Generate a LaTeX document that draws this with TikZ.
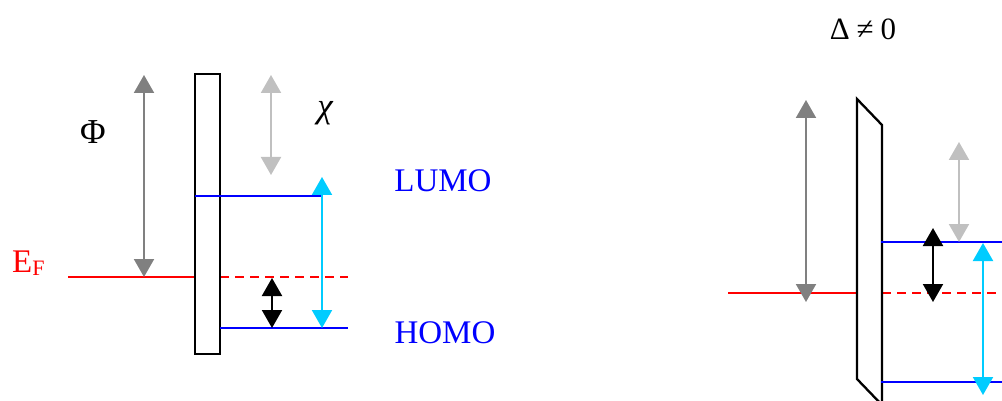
\documentclass[tikz,border=0pt]{standalone}
\usepackage{fontspec}
\setmainfont{Liberation Serif}
\usetikzlibrary{arrows.meta}
\definecolor{dgray}{RGB}{128,128,128}
\definecolor{lgray}{RGB}{192,192,192}
\definecolor{cyanarr}{RGB}{0,204,255}
\definecolor{lvlblue}{RGB}{0,0,255}
\definecolor{lvlred}{RGB}{255,0,0}
\begin{document}
\begin{tikzpicture}[x=1pt,y=-1pt,
  tip/.tip={Triangle[width=20pt,length=18pt]},
  dbl/.style={line width=2.1pt,tip-tip},
  level/.style={line width=2.1pt},
  barrier/.style={line width=2.3pt,draw=black,fill=white},
  lbl/.style={inner sep=0pt,font=\fontsize{33}{36}\selectfont},
  sym/.style={inner sep=0pt,font=\fontsize{35}{38}\selectfont},
]
\useasboundingbox (0,0) rectangle (1002,401);
\clip (0,0) rectangle (1002,401);
% ---------- left panel ----------
\coordinate (EFa) at (68,277);
\coordinate (EFb) at (195,277);
\coordinate (EFc) at (220,277);
\coordinate (EFd) at (348,277);
\coordinate (La) at (195,196);
\coordinate (Lb) at (322,196);
\coordinate (Ha) at (220,328);
\coordinate (Hb) at (348,328);
\coordinate (PhiT) at (144,75);
\coordinate (PhiB) at (144,277);
\coordinate (ChiT) at (271,75);
\coordinate (ChiB) at (271,175);
\coordinate (CyT) at (322,177);
\coordinate (CyB) at (322,328);
\coordinate (BkT) at (272,278);
\coordinate (BkB) at (272,328);
\coordinate (R1) at (195,74);
\coordinate (R2) at (220,354);

\draw[level,lvlred] (EFa) -- (EFb);
\draw[level,lvlred,dash pattern=on 9pt off 6pt] (EFc) -- (EFd);
\draw[barrier] (R1) rectangle (R2);
\draw[level,lvlblue] (La) -- (Lb);
\draw[level,lvlblue] (Ha) -- (Hb);
\draw[dbl,dgray] (PhiT) -- (PhiB);
\draw[dbl,lgray] (ChiT) -- (ChiB);
\draw[dbl,cyanarr] (CyT) -- (CyB);
\draw[dbl,black] (BkT) -- (BkB);

\node[sym] (phi) at (93,132) {Φ};
\node[sym] (chi) at (325,113) {\itshape χ};
\node[lbl,text=lvlblue] (lumo) at (443,181) {LUMO};
\node[lbl,text=lvlblue] (homo) at (445,333) {HOMO};
\node[lbl,text=lvlred,anchor=base west] (ef) at (12,272) {E\raisebox{-3pt}{\fontsize{22}{24}\selectfont F}};

% ---------- right panel ----------
\coordinate (rEFa) at (728,293);
\coordinate (rEFb) at (857,293);
\coordinate (rEFc) at (882,293);
\coordinate (rEFd) at (1002,293);
\coordinate (rLa) at (881,242);
\coordinate (rLb) at (1002,242);
\coordinate (rHa) at (881,382);
\coordinate (rHb) at (1002,382);
\coordinate (P1) at (857,99);
\coordinate (P2) at (882,125);
\coordinate (P3) at (882,405);
\coordinate (P4) at (857,379);
\coordinate (rPhiT) at (806,100);
\coordinate (rPhiB) at (806,302);
\coordinate (rChiT) at (959,142);
\coordinate (rChiB) at (959,242);
\coordinate (rBkT) at (933,228);
\coordinate (rBkB) at (933,302);
\coordinate (rCyT) at (983,243);
\coordinate (rCyB) at (983,395);

\draw[level,lvlred] (rEFa) -- (rEFb);
\draw[level,lvlred,dash pattern=on 9pt off 6pt] (rEFc) -- (rEFd);
\draw[barrier] (P1) -- (P2) -- (P3) -- (P4) -- cycle;
\draw[level,lvlblue] (rLa) -- (rLb);
\draw[level,lvlblue] (rHa) -- (rHb);
\draw[dbl,dgray] (rPhiT) -- (rPhiB);
\draw[dbl,lgray] (rChiT) -- (rChiB);
\draw[dbl,black] (rBkT) -- (rBkB);
\draw[dbl,cyanarr] (rCyT) -- (rCyB);

\node[inner sep=0pt,font=\fontsize{31}{34}\selectfont] (delta) at (863,29) {Δ\hspace{7pt}≠\hspace{7pt}0};
\end{tikzpicture}
\end{document}
